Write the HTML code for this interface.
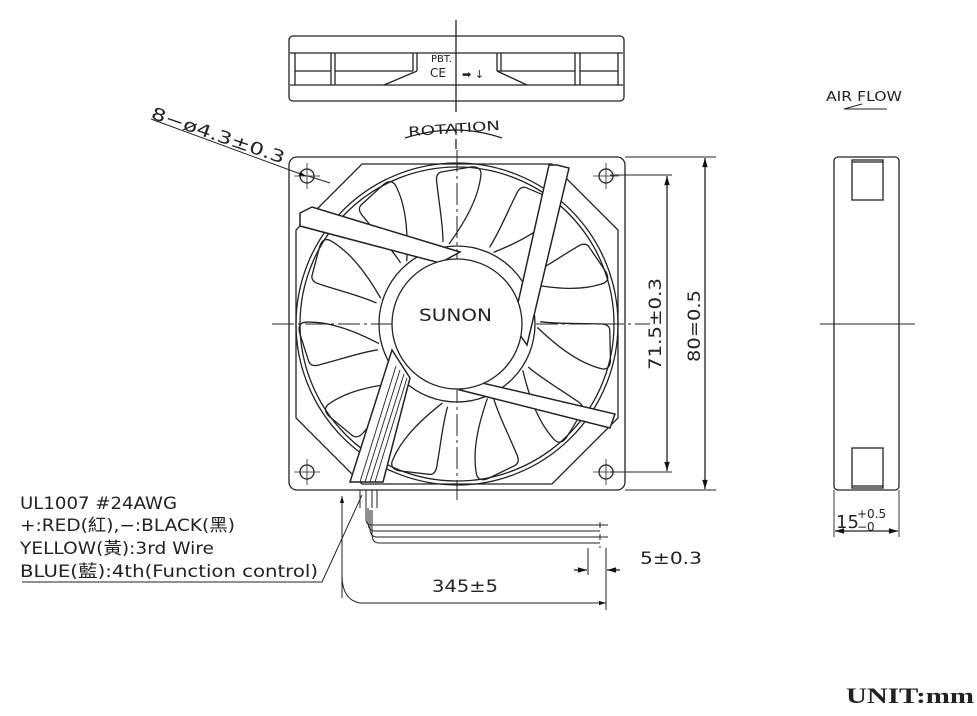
<!DOCTYPE html>
<html><head><meta charset="utf-8"><style>
html,body{margin:0;padding:0;background:#fff;width:977px;height:716px;overflow:hidden}
svg{display:block}
text{font-family:"DejaVu Sans","Liberation Sans","Noto Sans CJK TC",sans-serif;fill:#222}
</style></head><body>
<svg width="977" height="716" viewBox="0 0 977 716" xmlns="http://www.w3.org/2000/svg">
<defs>
<marker id="ar" viewBox="0 0 10 10" refX="10" refY="5" markerWidth="9" markerHeight="7" orient="auto-start-reverse"><path d="M0,2 L10,5 L0,8 z" fill="#111"/></marker>
</defs>
<g fill="none" stroke="#222" stroke-width="1.3">
<line x1="456" y1="20" x2="456" y2="112"/>
<line x1="456" y1="125" x2="456" y2="150" stroke-dasharray="10,4"/>
<rect x="289" y="36" width="335" height="65" rx="4"/>
<line x1="290" y1="53" x2="623" y2="53"/>
<line x1="290" y1="85" x2="623" y2="85"/>
<line x1="295" y1="53" x2="295" y2="85"/><line x1="618" y1="53" x2="618" y2="85"/>
<line x1="295" y1="71" x2="331" y2="71"/><line x1="580" y1="71" x2="618" y2="71"/>
<line x1="331" y1="53" x2="331" y2="85"/><line x1="335" y1="53" x2="335" y2="85"/>
<line x1="575" y1="53" x2="575" y2="85"/><line x1="580" y1="53" x2="580" y2="85"/>
<line x1="335" y1="71" x2="413" y2="71"/><line x1="413" y1="53" x2="413" y2="71"/><line x1="417" y1="53" x2="417" y2="71"/>
<path d="M384,85 L417,71"/>
<line x1="497" y1="71" x2="575" y2="71"/><line x1="497" y1="53" x2="497" y2="71"/><line x1="501" y1="53" x2="501" y2="71"/>
<path d="M527,85 L497,71"/>
<path d="M405,138 Q455,122 502,138"/>
<rect x="289" y="157" width="336" height="333" rx="8"/>
<path d="M362,164 L552,164 L618,230 L618,418 L552,484 L362,484 L296,418 L296,230 Z"/>
<circle cx="457" cy="324" r="161"/>
<circle cx="457" cy="324" r="157"/>
<circle cx="457" cy="324" r="78"/>
<circle cx="307" cy="176" r="7"/><circle cx="606" cy="176" r="7"/>
<circle cx="307" cy="472" r="7"/><circle cx="606" cy="472" r="7"/>
<g stroke-width="0.8">
<line x1="294" y1="176" x2="320" y2="176"/><line x1="307" y1="163" x2="307" y2="189"/>
<line x1="593" y1="176" x2="619" y2="176"/><line x1="606" y1="163" x2="606" y2="189"/>
<line x1="294" y1="472" x2="320" y2="472"/><line x1="307" y1="459" x2="307" y2="485"/>
<line x1="593" y1="472" x2="619" y2="472"/><line x1="606" y1="459" x2="606" y2="485"/>
</g>
<line x1="457" y1="150" x2="457" y2="500" stroke-dasharray="22,4,3,4" stroke-width="1"/>
<line x1="272" y1="324" x2="650" y2="324" stroke-dasharray="22,4,3,4" stroke-width="1"/>
<g transform="translate(457,324)">
<g id="bl"><path d="M-8,-80 C10,-105 22,-128 24,-150 Q24,-158 14,-157 L-16,-152 Q-22,-150 -20,-140 C-18,-120 -14,-100 -14,-82"/></g>
<use href="#bl" transform="rotate(32.7)"/><use href="#bl" transform="rotate(65.4)"/><use href="#bl" transform="rotate(98.1)"/>
<use href="#bl" transform="rotate(130.8)"/><use href="#bl" transform="rotate(163.5)"/><use href="#bl" transform="rotate(196.2)"/>
<use href="#bl" transform="rotate(228.9)"/><use href="#bl" transform="rotate(261.6)"/><use href="#bl" transform="rotate(294.3)"/>
<use href="#bl" transform="rotate(327)"/>
</g>
<g fill="#fff" stroke="#222" stroke-width="1.5">
<path d="M300,213 L312,207 L460,252 L440,263 L300,226 Z"/>
<path d="M557,165 L569,168 L527,345 L513,325 L549,165 Z"/>
<path d="M615,414 L610,428 L460,390 L478,382 Z"/>
<path d="M392,350 L410,378 L383,482 L350,482 Z"/>
</g>
<g stroke-width="0.9">
<line x1="396" y1="366" x2="360" y2="482"/><line x1="400" y1="370" x2="365" y2="482"/><line x1="404" y1="374" x2="370" y2="482"/><line x1="407" y1="378" x2="375" y2="482"/>
</g>
<circle cx="457" cy="324" r="65" fill="#fff"/>
<g stroke-width="1">
<path d="M360,490 L360,508"/><path d="M366,490 L366,508"/><path d="M372,490 L372,508"/><path d="M377,490 L377,508"/>
<path d="M366,508 L366,519 Q366,525 372,525 L608,525"/>
<path d="M368,508 L368,522 Q368,531 375,531 L600,531"/>
<path d="M370,510 L370,528 Q370,537 377,537 L608,537"/>
<path d="M372,510 L372,534 Q372,543 379,543 L600,543"/>
<path d="M600,522 L600,528 M600,534 L600,540 M600,546 L600,548"/>
</g>
<path d="M22,582 L322,582 L362,495" stroke-width="1"/>
<path d="M342,598 L342,575 Q342,600 360,603 L606,603" stroke-width="1" marker-end="url(#ar)"/>
<line x1="342" y1="575" x2="342" y2="496" marker-end="url(#ar)" stroke-width="1"/>
<line x1="606" y1="548" x2="606" y2="610" stroke-width="1"/>
<line x1="588" y1="548" x2="588" y2="575" stroke-width="1"/>
<line x1="574" y1="570" x2="587" y2="570" marker-end="url(#ar)"/>
<line x1="620" y1="570" x2="607" y2="570" marker-end="url(#ar)"/>
<line x1="151" y1="119" x2="306" y2="176" stroke-width="1" marker-end="url(#ar)"/>
<line x1="308" y1="176" x2="330" y2="183" stroke-width="1"/>
<line x1="610" y1="175" x2="672" y2="175" stroke-width="0.9"/>
<line x1="610" y1="472" x2="672" y2="472" stroke-width="0.9"/>
<line x1="625" y1="157" x2="716" y2="157" stroke-width="0.9"/>
<line x1="625" y1="490" x2="716" y2="490" stroke-width="0.9"/>
<line x1="667" y1="176" x2="667" y2="471" marker-start="url(#ar)" marker-end="url(#ar)"/>
<line x1="705" y1="158" x2="705" y2="489" marker-start="url(#ar)" marker-end="url(#ar)"/>
<rect x="834" y="157" width="65" height="333" rx="4"/>
<rect x="852" y="160" width="31" height="40"/><line x1="852" y1="162" x2="883" y2="162"/>
<rect x="852" y="448" width="31" height="40"/><line x1="852" y1="486" x2="883" y2="486"/>
<line x1="820" y1="324" x2="915" y2="324" stroke-width="1"/>
<line x1="834" y1="490" x2="834" y2="537" stroke-width="0.9"/>
<line x1="899" y1="490" x2="899" y2="537" stroke-width="0.9"/>
<line x1="835" y1="531" x2="898" y2="531" marker-start="url(#ar)" marker-end="url(#ar)"/>
<path d="M887,109 L844,109 L862,104" stroke-width="1"/>
</g>
<g font-size="14">
<text x="431" y="62" font-size="10">PBT.</text>
<text x="430" y="77" font-size="12">CE</text>
<text x="462" y="78" font-size="11">➡ ↓</text>
<text x="408" y="133" font-size="13" textLength="92" lengthAdjust="spacingAndGlyphs" transform="rotate(-4 455 128)">ROTATION</text>
<text x="419" y="321" font-size="17" textLength="73" lengthAdjust="spacingAndGlyphs">SUNON</text>
<text x="150" y="118" font-size="17" textLength="140" lengthAdjust="spacingAndGlyphs" transform="rotate(19 150 118)">8−ø4.3±0.3</text>
<text x="0" y="0" font-size="17" textLength="92" lengthAdjust="spacingAndGlyphs" transform="translate(661,370) rotate(-90)">71.5±0.3</text>
<text x="0" y="0" font-size="17" textLength="72" lengthAdjust="spacingAndGlyphs" transform="translate(700,362) rotate(-90)">80=0.5</text>
<text x="826" y="101" font-size="13" textLength="76" lengthAdjust="spacingAndGlyphs">AIR  FLOW</text>
<text x="836" y="528" font-size="18">15</text>
<text x="857" y="518" font-size="12">+0.5</text>
<text x="857" y="531" font-size="12">−0</text>
<text x="20" y="509" font-size="17" textLength="157" lengthAdjust="spacingAndGlyphs">UL1007  #24AWG</text>
<text x="20" y="531" font-size="17" textLength="215" lengthAdjust="spacingAndGlyphs">+:RED(紅),−:BLACK(黑)</text>
<text x="20" y="554" font-size="17" textLength="194" lengthAdjust="spacingAndGlyphs">YELLOW(黃):3rd  Wire</text>
<text x="20" y="577" font-size="17" textLength="298" lengthAdjust="spacingAndGlyphs">BLUE(藍):4th(Function  control)</text>
<text x="640" y="564" font-size="17" textLength="62" lengthAdjust="spacingAndGlyphs">5±0.3</text>
<text x="432" y="592" font-size="17" textLength="66" lengthAdjust="spacingAndGlyphs">345±5</text>
<text x="846" y="703" font-size="22" font-weight="bold" textLength="128" lengthAdjust="spacingAndGlyphs" style="font-family:'Liberation Serif',serif">UNIT:mm</text>
</g>
</svg>
</body></html>
